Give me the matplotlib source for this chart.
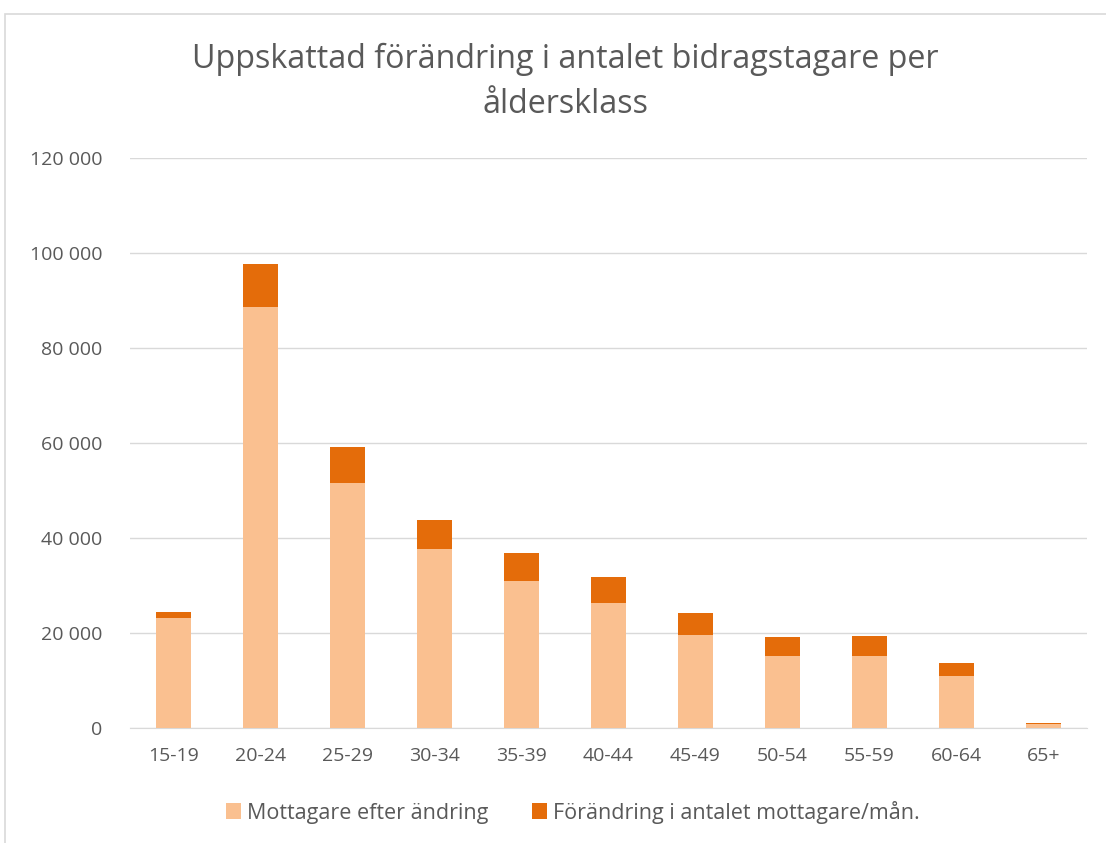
import matplotlib.pyplot as plt
import numpy as np

categories = ['15-19', '20-24', '25-29', '30-34', '35-39', '40-44',
              '45-49', '50-54', '55-59', '60-64', '65+']
mottagare = [23200, 88600, 51600, 37700, 30900, 26300, 19600, 15200, 15200, 10900, 800]
forandring = [1200, 9100, 7600, 6100, 5900, 5500, 4600, 4000, 4200, 2800, 250]
yticks = [0, 20000, 40000, 60000, 80000, 100000, 120000]
ytick_labels = ['0', '20 000', '40 000', '60 000', '80 000', '100 000', '120 000']

plt.rcParams['font.family'] = ['Open Sans', 'DejaVu Sans']

fig = plt.figure(figsize=(11.06, 8.43), dpi=100)
ax = fig.add_axes([130 / 1106, 1 - 728 / 843, (1087 - 130) / 1106, (728 - 158) / 843])

x = np.arange(len(categories))
ax.bar(x, mottagare, width=0.4, color='#FAC090', label='Mottagare efter ändring', zorder=3)
ax.bar(x, forandring, width=0.4, bottom=mottagare, color='#E46C0A',
       label='Förändring i antalet mottagare/mån.', zorder=3)

ax.set_xlim(-0.5, len(categories) - 0.5)
ax.set_ylim(0, 120000)
ax.set_yticks(yticks)
ax.set_yticklabels(ytick_labels)
ax.set_xticks(x)
ax.set_xticklabels(categories)
ax.tick_params(axis='both', length=0, labelsize=14, colors='#595959')
ax.tick_params(axis='y', pad=20)
ax.tick_params(axis='x', pad=14)
ax.grid(axis='y', color='#D9D9D9', linewidth=1, zorder=0)
for s in ['top', 'right', 'left']:
    ax.spines[s].set_visible(False)
ax.spines['bottom'].set_color('#D9D9D9')

fig.text(0.511, 1 - 82 / 843, 'Uppskattad förändring i antalet bidragstagare per\nåldersklass',
         ha='center', va='center', fontsize=23.2, color='#595959', linespacing=1.45)

ax.legend(loc='center', bbox_to_anchor=((573 - 130) / 957, -(812 - 728) / (728 - 158)), ncol=2,
          frameon=False, fontsize=15.5, labelcolor='#595959', handlelength=0.7, handleheight=0.7,
          handletextpad=0.3, columnspacing=2.0)

# kantlinje runt diagrammet
fig.patches.append(plt.Rectangle((5 / 1106, -0.01), 1.1, 1 - 14 / 843 + 0.01,
                                 transform=fig.transFigure, fill=False,
                                 edgecolor='#D9D9D9', linewidth=1.2))

plt.savefig('out.png', dpi=100)
